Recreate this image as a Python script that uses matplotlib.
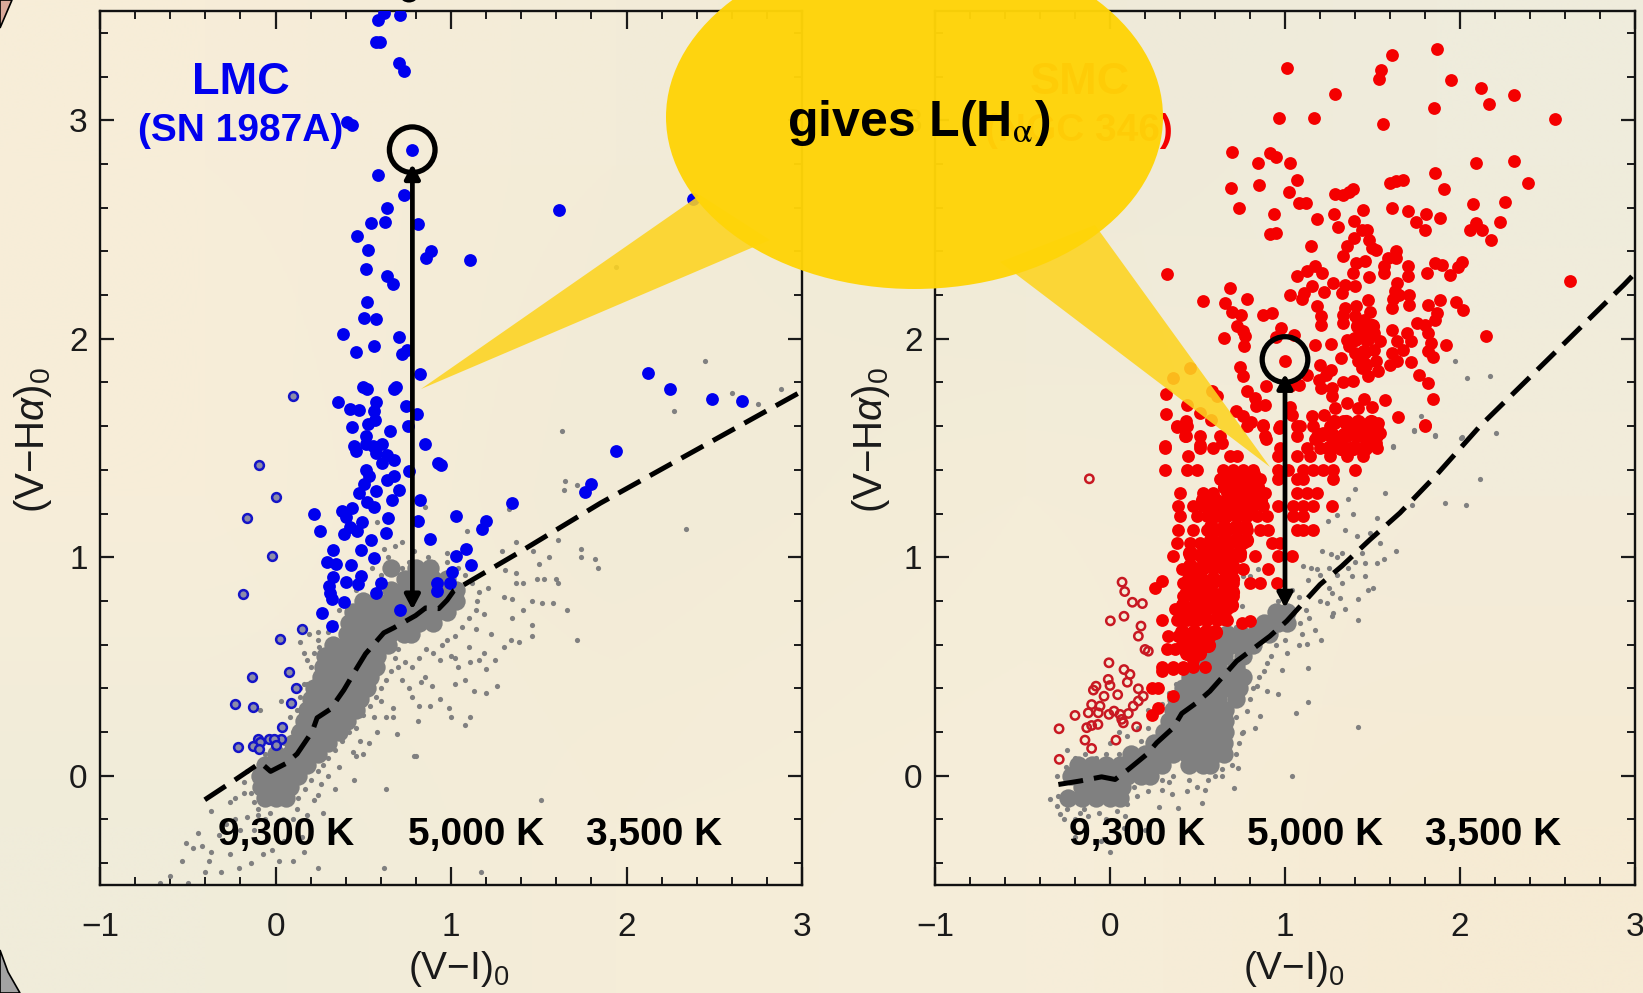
import numpy as np
import matplotlib
matplotlib.use("Agg")
import matplotlib.pyplot as plt
from matplotlib.patches import Ellipse, Polygon
from matplotlib.ticker import MultipleLocator

plt.rcParams['font.family'] = ['Liberation Sans', 'DejaVu Sans']
plt.rcParams['mathtext.fontset'] = 'custom'
plt.rcParams['mathtext.rm'] = 'Liberation Sans'
plt.rcParams['mathtext.it'] = 'Liberation Sans:italic'
plt.rcParams['mathtext.bf'] = 'Liberation Sans:bold'

W, H = 1643, 993

# ---------- LMC data (V-I, V-Halpha) ----------
lmc_filled = [(.585,3.46),(.621,3.49),(.712,3.48),(.575,3.36),(.598,3.36),(.703,3.26),(.735,3.225),(.408,2.99),(.437,2.98),
 (.779,2.865),(.585,2.75),(.731,2.66),(.636,2.60),(.547,2.53),(.623,2.535),(.811,2.525),(.465,2.47),(.526,2.405),(.887,2.40),
 (.860,2.37),(1.111,2.36),(1.618,2.59),(.513,2.32),(.636,2.285),(.670,2.25),(.524,2.17),(.505,2.095),(.575,2.09),(.384,2.02),
 (.703,2.01),(.458,1.94),(.562,1.965),(.718,1.93),(.750,1.95),(.824,1.84),(.496,1.78),(.522,1.77),(.689,1.78),(.674,1.77),
 (.355,1.71),(.570,1.71),(.424,1.68),(.475,1.675),(.560,1.67),(.745,1.69),(.807,1.655),(.566,1.63),(.526,1.61),(.435,1.595),
 (.651,1.58),(.754,1.60),(.513,1.555),(.446,1.51),(.513,1.52),(.556,1.51),(.608,1.52),(.851,1.52),
 (2.12,1.845),(2.25,1.77),(2.49,1.725),(2.66,1.715),(1.94,1.485),(1.795,1.337),(1.765,1.30),(2.38,2.64),
 (.456,1.485),(.57,1.477),(.608,1.43),(.637,1.47),(.674,1.446),(.76,1.395),(.925,1.43),(.944,1.42),(.513,1.40),(.532,1.374),
 (.674,1.374),(.636,1.353),(.503,1.335),(.475,1.295),(.57,1.303),(.703,1.306),(.522,1.255),(.56,1.23),(.665,1.263),(.822,1.26),
 (.218,1.20),(.38,1.21),(.437,1.226),(.399,1.184),(.642,1.179),(.813,1.168),(1.026,1.19),(.494,1.16),(.427,1.14),(.465,1.12),
 (.389,1.105),(.251,1.12),(.627,1.113),(.883,1.084),(.545,1.078),(.329,1.034),(.488,1.034),(.564,.997),(.294,.978),(.342,.97),
 (.431,.966),(1.028,1.008),(1.088,1.039),(1.115,.966),(1.007,.931),(.329,.91),(.488,.915),(.304,.868),(.399,.887),(.469,.879),
 (.602,.88),(.921,.883),(.993,.88),(.313,.835),(.323,.809),(.57,.835),(.389,.793),(.921,.847),(.266,.746),(.323,.685),(.708,.76),
 (1.197,1.168),(1.178,1.129),(1.35,1.247)]

lmc_open = [(.097,1.738),(-.095,1.42),(.004,1.278),(-.161,1.18),(-.021,1.005),(-.186,.833),(.152,.672),(.025,.627),(.078,.476),
 (-.133,.45),(.114,.403),(-.23,.327),(-.127,.313),(.087,.335),(.036,.223),(.034,.169),(-.1,.17),(-.038,.166),(-.006,.166),
 (0,.143),(-.09,.155),(-.127,.134),(-.215,.131),(-.093,.123)]

lmc_grey_core_rows = [(-.1,[-.06,0,.06]),(-.05,[-.08,0,.08]),(0,[-.09,-.02,.06,.13]),(.05,[-.06,.02,.1,.18]),(.1,[0,.08,.16,.24]),
 (.15,[.1,.18,.26,.3]),(.2,[.14,.22,.3,.36]),(.25,[.16,.24,.32,.41]),(.3,[.18,.26,.34,.42,.46]),(.35,[.2,.28,.36,.44,.48]),
 (.4,[.22,.3,.38,.46,.52]),(.45,[.26,.34,.42,.5,.54]),(.5,[.27,.35,.43,.51,.57]),(.55,[.28,.36,.44,.52,.58]),(.6,[.33,.41,.49,.57,.64]),
 (.65,[.41,.49,.57,.65,.73,.77]),(.7,[.42,.5,.58,.66,.74,.82,.9]),(.75,[.44,.52,.6,.68,.76,.84,.92,.98]),
 (.8,[.5,.58,.66,.74,.82,.9,.98,1.03]),(.85,[.66,.74,.82,.9,.98,1.03]),(.9,[.74,.82,.9,.98]),(.95,[.66,.8,.88])]

lmc_grey = [(-.37,-.16),(-.23,-.10),(-.18,-.08),(-.44,-.26),(-.51,-.31),(-.47,-.33),(-.42,-.32),(-.37,-.35),(-.53,-.39),(-.38,-.39),
 (-.31,-.44),(-.40,-.44),(-.21,-.42),(-.14,-.40),(-.07,-.36),(-.02,-.34),(.02,-.39),(.10,-.39),(.16,-.35),(.24,-.42),(.62,-.42),
 (1.17,-.44),(-.60,-.46),(-.66,-.49),(-.50,-.49),(-.26,-.36),(-.32,-.27),(-.23,-.20),(-.16,-.19),(-.10,-.15),(-.03,-.17),(.05,-.12),
 (.12,-.15),(.18,-.18),(.27,-.17),(.22,-.11),(.34,-.06),(.45,-.02),(.63,-.06),(1.51,-.11),(.79,.09),(.80,.09),(.69,.19),(.58,.20),
 (.53,.15),(.50,.10),(.46,.09),(.67,.27),(.81,.25),(1.0,.27),(1.11,.27),(1.08,.23),(.94,.35),(.99,.31),(.88,.32),(.82,.32),(.67,.31),
 (.63,.27),(.76,.40),(.83,.43),(.89,.41),(1.02,.42),(1.13,.39),(1.20,.38),(1.26,.41),(1.08,.44),(1.04,.50),(1.11,.52),(1.16,.53),
 (1.19,.56),(1.25,.53),(1.20,.49),(1.10,.59),(1.02,.54),(.94,.53),(1.30,.59),(1.34,.62),(1.39,.61),(1.46,.64),(1.46,.69),(1.72,.62),
 (1.35,.72),(1.23,.65),(1.19,.74),(1.14,.67),(1.66,.76),(1.58,.79),(1.52,.79),(1.46,.80),(1.41,.76),(1.35,.81),(1.30,.82),(1.21,.86),
 (1.15,.80),(1.37,.88),(1.41,.88),(1.49,.90),(1.53,.90),(1.60,.90),(1.61,.88),(1.50,.97),(1.56,1.0),(1.47,1.03),(1.37,1.07),(1.29,1.03),
 (1.37,.93),(1.31,.94),(1.61,1.08),(1.74,1.04),(1.74,1.0),(1.84,.95),(1.82,.99),(1.65,1.35),(1.72,1.33),(1.33,1.22),(1.09,1.12),
 (.62,1.04),(.68,1.05),(.72,1.07),(.79,1.03),(.87,1.0),(.98,1.02),(.67,.95),(.58,1.16),(.85,1.23),(.14,.61),(.16,.56),(.18,.53),
 (.24,.66),(.19,.65),(.25,.59),(.03,.34),(-.09,.30),(.14,.40),(.18,.42),(.23,.46),(2.88,1.77),(2.45,1.90),(2.27,1.67),(2.34,1.13),
 (1.63,1.58),(1.645,1.31),(2.75,1.70),(2.6,1.75),(1.94,2.33)]

lmc_grey_edge = [(-.16,.02),(-.18,-.03),(-.14,-.08),(-.12,-.12),(-.1,-.18),(-.06,-.2),(0,-.22),(.04,-.2),(.1,-.2),(.13,-.1),(.17,-.06),(.2,-.02),
 (.24,.02),(.27,.05),(.3,.08),(.34,.12),(.38,.16),(.42,.2),(.46,.22),(.5,.28),(.54,.32),(.57,.36),(.6,.4),(.63,.44),(.66,.48),(.7,.5),(.74,.52),
 (.78,.5),(.82,.54),(.86,.58),(.9,.56),(.95,.6),(.98,.62),(1.02,.64),(1.06,.68),(1.1,.72),(1.14,.76),(1.16,.84),(1.12,.88),(1.08,.92),(1.04,.95),
 (.98,.98),(.7,.58),(.74,.62),(.68,.54),(.1,.2),(.08,.27),(.12,.3),(.14,.36),(.16,.42),(.2,.5),(.22,.56),(.24,.62),(.3,.66),(.34,.7),(.36,.76),
 (.6,.92),(.64,1.0),(.55,.95),(.5,.9),(.46,.85),(.02,.1),(-.02,.09),(-.06,.1),(.05,.15),(.9,.98),(.84,.95),(.76,.98),(.72,.95),(1.0,.55),(.85,.45),
 (.72,.44),(.78,.36),(.6,.34),(.56,.27),(.48,.16),(.44,.11),(.36,.04),(.3,0),(.26,-.04),(.24,-.09),(.15,-.28),(.05,-.3),(-.05,-.28),(-.12,-.25),
 (-.2,-.25),(-.26,-.12),(-.28,-.22)]

lmc_locus = [(-.403,-.11),(-.218,-.012),(-.085,.06),(-.028,.02),(.057,.055),(.123,.10),(.209,.202),(.237,.265),(.313,.305),(.389,.392),
 (.465,.495),(.513,.558),(.617,.654),(.674,.677),(.798,.733),(.855,.768),(.931,.765),(.978,.804),(1.016,.847),(1.396,1.026),(1.852,1.248),(3.0,1.76)]

lmc_arrow = (.78, .76, 2.80)
lmc_ring = (.779, 2.865)

# ---------- SMC data ----------
smc_filled = [(1.013,3.24),(1.61,3.30),(1.866,3.325),(1.547,3.23),(1.538,3.19),(1.95,3.185),(1.285,3.12),(2.118,3.146),(2.167,3.075),
 (2.31,3.117),(1.85,3.056),(.968,3.01),(1.167,3.01),(1.562,2.984),(2.543,3.005),(.698,2.853),(.915,2.85),(.946,2.83),(.843,2.804),
 (1.028,2.804),(2.094,2.804),(2.306,2.812),(1.855,2.76),(1.07,2.725),(.691,2.688),(.852,2.703),(1.024,2.673),(1.598,2.713),(1.632,2.72),
 (1.676,2.728),(1.906,2.684),(2.391,2.714),(1.285,2.662),(1.334,2.66),(1.364,2.67),(1.386,2.687),(1.08,2.62),(1.118,2.62),(.736,2.60),
 (.937,2.57),(2.074,2.618),(2.255,2.624),(1.611,2.60),(1.446,2.59),(1.703,2.583),(1.803,2.571),(1.884,2.554),(1.185,2.546),(1.279,2.572),
 (1.305,2.511),(1.397,2.54),(1.75,2.533),(1.799,2.498),(2.228,2.534),(2.094,2.53),(2.058,2.50),(2.123,2.496),(2.178,2.45),(.917,2.478),
 (.946,2.482),(1.442,2.496),(1.468,2.496),(1.393,2.46),(1.482,2.454),(1.147,2.424),(1.352,2.423),(1.498,2.415),(1.519,2.405),(1.33,2.38),
 (1.636,2.40),(1.591,2.37),(1.632,2.37),(1.46,2.354),(1.408,2.347),(1.702,2.335),(1.565,2.331),(1.174,2.331),(1.855,2.347),(1.9,2.336),
 (2.011,2.351),(1.989,2.328),(.325,2.298),(1.128,2.31),(1.214,2.30),(1.069,2.285),(1.386,2.30),(1.565,2.30),(1.702,2.286),(1.81,2.30),
 (1.944,2.293),(1.482,2.283),(2.626,2.266),(1.274,2.255),(1.341,2.248),(1.398,2.24),(1.642,2.255),(1.156,2.24),(1.325,2.21),(1.225,2.214),
 (1.631,2.218),(.687,2.231),(1.106,2.21),(1.027,2.199),(1.096,2.18),(.53,2.171),(.783,2.184),(1.71,2.202),(1.654,2.199),(1.475,2.176),
 (1.884,2.176),(1.62,2.18),(1.978,2.167),(1.818,2.153),(1.71,2.156),(.658,2.164),(2.016,2.13),(1.185,2.149),(1.609,2.141),(1.341,2.141),
 (1.408,2.149),(1.486,2.121),(.698,2.121),(.75,2.11),(.877,2.109),(.924,2.118),(1.866,2.118),(1.206,2.103),(1.33,2.11),(1.398,2.103),
 (1.453,2.087),(1.33,2.072),(1.206,2.065),(1.86,2.087),(1.755,2.072),(1.799,2.065),(.727,2.06),(.977,2.049),(1.486,2.049),(1.609,2.042),
 (.76,2.034),(1.442,2.027),(1.509,2.027),(1.82,2.027),(1.698,2.027),(.649,2.005),(.772,2.011),(.95,2.008),(1.051,2.019),(1.352,1.996),
 (2.148,2.011),(1.721,1.988),(1.832,1.981),(1.465,1.996),(1.542,1.988),(1.642,1.988),(1.169,1.972),(1.265,1.976),(1.922,1.973),(.765,1.966),
 (1.363,1.966),(1.509,1.95),(1.398,1.935),(1.676,1.95),(1.82,1.943),(1.609,1.935),(1.0,1.899),(1.319,1.912),(1.419,1.897),(1.52,1.897),
 (1.642,1.897),(1.722,1.894),(1.845,1.917),(1.598,1.882),(1.442,1.866),(1.2,1.878),(.455,1.866),(.743,1.869),(1.263,1.859),(1.531,1.851),
 (.359,1.82),(1.237,1.836),(.761,1.828),(1.475,1.828),(1.128,1.833),(1.766,1.833),(1.196,1.813),(1.33,1.80),(1.386,1.805),(1.817,1.798),
 (.894,1.783),(1.207,1.775),(1.08,1.79),(1.028,1.783),(1.268,1.775),(.783,1.76),(.582,1.76),(.318,1.748),(.609,1.737),(1.268,1.737),
 (.827,1.73),(1.843,1.722),(1.572,1.718),(1.454,1.722),(1.353,1.706),(1.285,1.684),(.441,1.699),(.834,1.691),(.883,1.699),(1.42,1.684),
 (1.499,1.688),(1.028,1.688),(.72,1.671),(.318,1.656),(.515,1.66),(1.04,1.653),(1.223,1.653),(1.152,1.645),(1.647,1.642),(.761,1.645),
 (.436,1.622),(.578,1.63),(.805,1.618),(1.8,1.604),(.381,1.595),(.877,1.603),(.968,1.592),(1.531,1.615),(1.33,1.622),(1.084,1.6),
 (1.543,1.569),(1.218,1.569),(1.375,1.577),(.436,1.554),(.89,1.542),(1.174,1.539),(.314,1.508),(.515,1.516),(.638,1.523),(1.52,1.523),(1.285,1.531),
 (.257,.86),(.295,.89),(.752,.70),(.8,.71),(.545,.50),(.476,.53),(.362,.49),(.419,.49),(.295,.478),(.362,.365),(.238,.28),(.276,.31),(.238,.40),(.276,.40)]

smc_dense_rows = [(.50,[.295,.362,.419,.476]),(.578,[.324,.371,.476,.514]),(.639,[.333,.39,.457,.514,.571]),
 (.715,[.295,.381,.438,.495,.552,.61,.667]),(.761,[.371,.438,.495,.552,.61,.667]),(.822,[.419,.476,.533,.59,.648,.705]),
 (.883,[.419,.476,.533,.59,.648,.705,.8,.857,.952]),(.944,[.41,.476,.533,.59,.648,.705,.762,.905]),
 (1.005,[.362,.457,.514,.571,.629,.686,.743,.829,1.038,.962]),(1.066,[.381,.457,.514,.571,.629,.686,.762,.924,.971]),
 (1.127,[.39,.476,.552,.61,.667,.724,.781,.857,.905,1.067,1.105,1.162]),(1.188,[.4,.495,.552,.61,.667,.724,.781,.838,.895,1.048,1.105]),
 (1.234,[.39,.476,.533,.59,.648,.705,.762,.819,.876,.962,1.048,1.105,1.162,1.267]),(1.295,[.4,.533,.59,.667,.724,.781,.838,.886,1.067,1.124,1.181]),
 (1.356,[.629,.686,.743,.8,.857,.962,1.067,1.105,1.276]),(1.401,[.314,.438,.495,.648,.705,.762,.819,.962,1.019,1.105,1.162,1.219,1.276,1.4]),
 (1.462,[.448,.724,.686,.962,1.067,1.143,1.257,1.352,1.448]),(1.5,[.314,.514,.59,.971,1.124,1.2,1.257,1.352,1.429,1.524]),
 (1.554,[.429,.514,.629,.886,1.067,1.181,1.257,1.352,1.448,1.524]),(1.6,[.381,.438,.781,.876,.971,1.067,1.162,1.257,1.352,1.448,1.524,1.8])]

smc_red_core_rows = [(.56,[.44,.51]),(.6,[.42,.49,.56]),(.66,[.41,.48,.55,.6]),(.72,[.4,.47,.54,.61,.65]),(.78,[.42,.49,.56,.63,.69]),
 (.84,[.44,.51,.58,.65,.7]),(.9,[.45,.52,.59,.66,.7]),(.96,[.46,.53,.6,.67,.7]),(1.02,[.46,.53,.6,.67,.74]),(1.08,[.58,.65,.72,.78]),
 (1.14,[.58,.65,.72,.77]),(1.2,[.58,.65,.72,.77]),(1.26,[.53,.6,.67,.74,.81,.86]),(1.32,[.66,.73,.8,.84]),(1.38,[.68,.75,.82]),
 (1.5,[1.25,1.32,1.39,1.46]),(1.56,[1.2,1.27,1.34,1.41,1.48]),(1.62,[1.28,1.35,1.42,1.49]),(1.88,[1.46]),(1.94,[1.45]),(2.0,[1.4,1.47]),(2.06,[1.42,1.5])]

smc_open = [(-.118,1.359),(.069,.886),(.084,.843),(.128,.794),(.185,.788),(.002,.709),(.08,.73),(.177,.685),(.162,.639),(.2,.578),(.219,.57),
 (-.006,.517),(.08,.486),(.114,.464),(.099,.428),(-.01,.441),(0,.413),(-.08,.41),(-.095,.392),(.162,.398),(-.034,.364),(.044,.371),(.19,.364),
 (.162,.342),(-.105,.326),(-.057,.319),(.133,.319),(-.124,.288),(-.067,.288),(-.006,.281),(.023,.296),(.057,.281),(.105,.285),(-.2,.276),
 (.067,.258),(.076,.242),(-.069,.235),(-.133,.22),(-.105,.23),(.152,.224),(-.291,.215),(.034,.163),(-.143,.163),(-.105,.125),(-.29,.075)]

smc_grey_core_rows = [(-.1,[-.24,-.16,-.08,0,.06]),(-.05,[-.16,-.08,0,.07]),(0,[-.22,-.14,-.06,.02,.1,.18,.23]),
 (.05,[-.18,-.1,-.02,.06,.14,.22,.3,.45,.53,.57]),(.1,[.12,.2,.28,.36,.44,.52,.6,.65]),(.15,[.25,.33,.41,.49,.57,.65]),
 (.2,[.31,.39,.47,.55,.63,.66]),(.25,[.34,.42,.5,.58,.66]),(.3,[.36,.44,.52,.6,.66]),(.35,[.38,.46,.54,.62,.72]),(.4,[.42,.5,.58,.66,.74]),
 (.45,[.46,.54,.62,.7,.76]),(.5,[.54,.62,.72]),(.55,[.57,.65,.76]),(.6,[.61,.69,.77,.82]),(.65,[.67,.75,.83,.91]),(.7,[.88,.96,1.01]),(.75,[.95,1.01])]

smc_grey = [(-.343,-.108),(-.286,-.177),(-.248,-.151),(-.171,-.169),(-.124,-.185),(0,-.131),(.086,-.185),(.282,-.143),(.387,-.146),(.524,-.124),
 (.543,-.063),(.438,-.07),(.352,-.085),(.295,-.063),(.219,-.07),(.152,-.093),(.709,-.055),(.733,.037),(.638,.029),(1.042,0),(1.417,.224),(1.133,.339),
 (1.063,.288),(.857,.273),(.829,.22),(.752,.197),(.781,.296),(.895,.387),(.962,.375),(.842,.41),(1.133,.494),(.985,.483),(.899,.517),(1.01,.563),
 (1.124,.601),(1.206,.621),(1.171,.669),(1.086,.7),(1.419,.711),(1.267,.73),(1.343,.761),(1.314,.814),(1.419,.811),(1.476,.849),(1.505,.86),(1.238,.791),
 (1.276,.746),(1.524,.974),(1.568,.99),(1.632,1.028),(1.457,.974),(1.381,.913),(1.457,.913),(1.324,.883),(1.267,.837),(1.21,1.028),(1.263,1.016),
 (1.328,1.02),(1.181,.944),(1.133,.898),(1.105,.959),(1.41,1.096),(1.486,1.112),(1.543,1.066),(1.343,1.127),(1.524,1.18),(1.248,1.165),(1.295,1.195),
 (1.39,1.2),(1.362,1.267),(1.4,1.314),(1.571,1.295),(1.724,1.241),(1.914,1.246),(2.034,1.238),(2.114,1.356),(1.619,1.505),(1.737,1.584),(1.857,1.557),
 (2.01,1.551),(-.248,.12),(-.2,.075),(-.229,.029),(-.295,-.093),(.762,.913),(.752,.779),(.8,.913),(.848,.944),(1.974,1.898),(2.04,1.82),(2.174,1.83),
 (1.777,1.645),(1.737,1.58),(1.859,1.558),(2.005,1.546),(2.206,1.569),(1.62,1.508),(-.15,-.25),(-.05,-.3),(0,-.35),(.08,-.24),(-.2,-.28),(.2,-.25)]

smc_grey_edge = [(-.3,-.14),(-.26,-.2),(-.2,-.2),(-.15,-.15),(-.06,-.17),(-.02,-.2),(.04,-.16),(.1,-.13),(.14,-.05),(.2,-.02),(.24,-.02),(.3,-.02),
 (.36,0),(.34,-.03),(.45,-.02),(.5,-.05),(.56,-.02),(.6,0),(.64,0),(.7,.05),(.72,.1),(.74,.15),(.76,.2),(.72,.27),(.74,.33),(.8,.35),(.82,.4),(.85,.45),
 (.88,.48),(.92,.55),(.95,.6),(1.0,.62),(1.08,.6),(1.1,.65),(1.14,.72),(1.12,.76),(1.08,.82),(1.04,.85),(1.0,.82),(.96,.8),(.92,.76),(.88,.72),(.84,.7),
 (.78,.66),(.72,.68),(.66,.7),(.6,.68),(.56,.62),(.5,.56),(.46,.5),(.42,.48),(.38,.42),(.34,.38),(.3,.33),(.26,.28),(.22,.22),(.18,.16),(.12,.12),(.05,.1),
 (-.02,.1),(-.08,.08),(-.14,.1),(-.2,.08),(-.25,.04),(-.3,0),(0,.15),(.1,.18),(.05,.2),(.16,.22),(.22,.3),(1.2,.8),(1.25,.86),(1.3,.92),(1.36,.95),(1.4,.98),
 (1.44,1.02),(1.2,.92),(1.15,.95),(1.25,.95),(1.3,1.0)]

smc_locus = [(-.295,-.04),(-.171,-.024),(-.048,-.005),(.029,-.017),(.105,.029),(.21,.098),(.267,.151),(.362,.22),(.41,.285),(.495,.334),(.571,.387),
 (.724,.525),(.914,.639),(1.01,.708),(1.2,.875),(1.324,.959),(1.486,1.081),(1.657,1.203),(1.867,1.378),(2.114,1.6),(2.938,2.248),(3.0,2.30)]

smc_arrow = (1.0, .768, 1.84)
smc_ring = (1.0, 1.905)

x_ticks = [-1, 0, 1, 2, 3]
y_ticks = [0, 1, 2, 3]
x_tick_labels = ['\u22121', '0', '1', '2', '3']
temperatures = ['9,300 K', '5,000 K', '3,500 K']
lmc_temperature_x = [-.325, .755, 1.77]
smc_temperature_x = [-.233, .782, 1.80]

def rows_to_xy(rows):
    return [(x, y) for y, xs in rows for x in xs]

def frame(left, right, top=11, bottom=885):
    return [left / W, 1 - bottom / H, (right - left) / W, (bottom - top) / H]

fig = plt.figure(figsize=(W / 100, H / 100), dpi=100)

# Background
bg = fig.add_axes([0, 0, 1, 1], zorder=0)
bg_colors = np.array([
    [[0xF7,0xED,0xD8],[0xF3,0xEC,0xD8],[0xEF,0xEA,0xD8],[0xEF,0xEC,0xDC]],
    [[0xF7,0xEE,0xD9],[0xF2,0xEB,0xD7],[0xF4,0xED,0xD8],[0xF3,0xEC,0xDA]],
    [[0xF0,0xEC,0xDA],[0xF5,0xED,0xD8],[0xF6,0xEE,0xDA],[0xF6,0xEB,0xD4]],
], dtype=float) / 255
bg.imshow(bg_colors, extent=(0, W, H, 0), interpolation='bilinear', aspect='auto')
bg.set_xlim(0, W); bg.set_ylim(H, 0); bg.axis('off')
bg.add_patch(Polygon([(0, 0), (12, 0), (0, 28)], closed=True, fc='#D9A99A', ec='black', lw=1.2))
bg.add_patch(Polygon([(0, 950), (8, 972), (20, 993), (0, 993)], closed=True, fc='#A3A3A3', ec='black', lw=1.2))

GREY = '#808080'
BLUE = '#0000EE'
RED = '#F40000'

def panel(rect, core, grey, opened, filled, red_core, locus, arrow, ring, open_kw, fill_col, temp_x):
    ax = fig.add_axes(rect, zorder=1)
    ax.patch.set_alpha(0)
    ax.set_xlim(-1, 3); ax.set_ylim(-.5, 3.5)
    cx, cy = zip(*core)
    ax.scatter(cx, cy, s=175, c=GREY, lw=0, zorder=2)
    gx, gy = zip(*grey)
    ax.scatter(gx, gy, s=14, c=GREY, lw=0, zorder=2)
    ox, oy = zip(*opened)
    ax.scatter(ox, oy, lw=1.8, zorder=3, **open_kw)
    fx, fy = zip(*filled)
    ax.scatter(fx, fy, s=85, c=fill_col, lw=0, zorder=4)
    if red_core:
        rx, ry = zip(*red_core)
        ax.scatter(rx, ry, s=120, c=fill_col, lw=0, zorder=4)
    lx, ly = zip(*locus)
    ax.plot(lx, ly, color='black', lw=3.6, dashes=(5.0, 2.2), zorder=5)
    ax.annotate('', xy=(arrow[0], arrow[2]), xytext=(arrow[0], arrow[1]),
                arrowprops=dict(arrowstyle='<|-|>,head_length=0.85,head_width=0.45', color='black', lw=3.4,
                                shrinkA=0, shrinkB=0), zorder=6)
    ax.scatter([ring[0]], [ring[1]], s=1080, fc='none', ec='black', lw=3.8, zorder=6)
    ax.xaxis.set_minor_locator(MultipleLocator(.2))
    ax.yaxis.set_minor_locator(MultipleLocator(.2))
    ax.set_xticks(x_ticks); ax.set_xticklabels(x_tick_labels)
    ax.set_yticks(y_ticks)
    ax.tick_params(which='major', axis='x', direction='in', top=True, length=13, width=1.6, labelsize=24, pad=19.5, colors='#1a1a1a')
    ax.tick_params(which='major', axis='y', direction='in', right=True, length=10, width=1.6, labelsize=24, pad=9, colors='#1a1a1a')
    ax.tick_params(which='minor', direction='in', top=True, right=True, length=6, width=1.4, colors='#1a1a1a')
    for s in ax.spines.values():
        s.set_linewidth(1.7); s.set_color('#111111')
    for t, xp in zip(temperatures, temp_x):
        ax.text(xp, -.27, t, fontsize=28, fontweight='bold', color='black', ha='left', va='center', zorder=7)
    return ax

ax1 = panel(frame(100, 802), rows_to_xy(lmc_grey_core_rows), lmc_grey + lmc_grey_edge, lmc_open, lmc_filled, [], lmc_locus, lmc_arrow, lmc_ring,
            dict(s=40, facecolor='#8C8CA8', edgecolor='#1414C8'), BLUE, lmc_temperature_x)
ax2 = panel(frame(935, 1635), rows_to_xy(smc_grey_core_rows), smc_grey + smc_grey_edge, smc_open,
            smc_filled + rows_to_xy(smc_dense_rows), rows_to_xy(smc_red_core_rows), smc_locus, smc_arrow, smc_ring,
            dict(s=36, facecolor='none', edgecolor='#C81822'), RED, smc_temperature_x)

ax1.text(-.2, 3.175, 'LMC', color=BLUE, fontsize=32.5, fontweight='bold', ha='center', va='center')
ax1.text(-.2, 2.95, '(SN 1987A)', color=BLUE, fontsize=28, fontweight='bold', ha='center', va='center')
ax2.text(-.17, 3.175, 'SMC', color=RED, fontsize=32.5, fontweight='bold', ha='center', va='center')
ax2.text(-.18, 2.95, '(NGC 346)', color=RED, fontsize=28, fontweight='bold', ha='center', va='center')

# Axis titles
fig.text(459 / W, 1 - 969 / H, '(V\u2212I)$_0$', fontsize=28, ha='center', va='center', color='#1a1a1a')
fig.text(1294 / W, 1 - 969 / H, '(V\u2212I)$_0$', fontsize=28, ha='center', va='center', color='#1a1a1a')
fig.text(33 / W, 1 - 440 / H, '(V\u2212H$\\alpha$)$_0$', fontsize=29, rotation=90, ha='center', va='center', color='#1a1a1a')
fig.text(871 / W, 1 - 440 / H, '(V\u2212H$\\alpha$)$_0$', fontsize=29, rotation=90, ha='center', va='center', color='#1a1a1a')

# Callout on top of everything
over = fig.add_axes([0, 0, 1, 1], zorder=3)
over.set_xlim(0, W); over.set_ylim(H, 0); over.axis('off'); over.patch.set_alpha(0)
over.add_patch(Polygon([(421, 389), (700, 195), (770, 240)], closed=True, fc='#FDD420', ec='none', alpha=.88))
over.add_patch(Polygon([(1270, 467), (1095, 225), (1000, 262)], closed=True, fc='#FDD420', ec='none', alpha=.88))
over.add_patch(Ellipse((914.5, 117), 497, 344, fc='#FFD408', ec='none', alpha=.97))
over.add_patch(Ellipse((409, -3), 16, 11, fc='black', ec='none'))
over.text(919, 136, 'gives L(H$_{\\mathrm{\\alpha}}$)', fontsize=36, fontweight='bold', ha='center', va='baseline',
          color='black', math_fontfamily='stix')

fig.savefig('out.png', dpi=100)
